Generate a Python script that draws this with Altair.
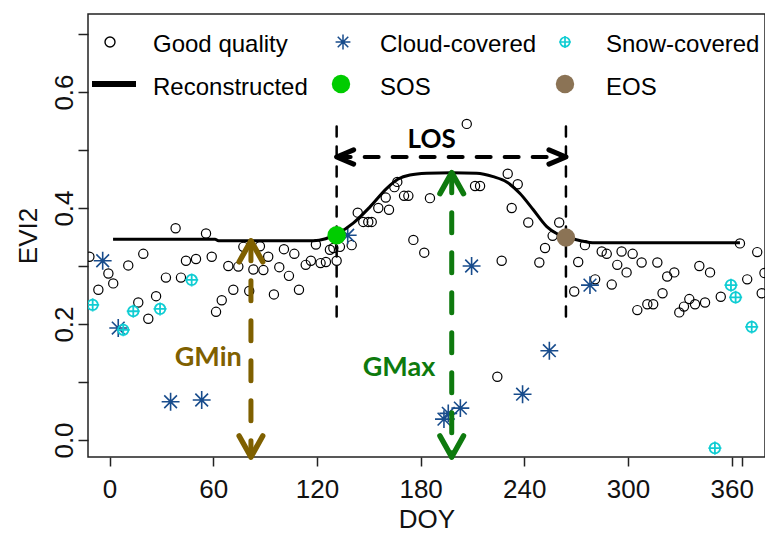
import altair as alt
import pandas as pd

# ---------------------------------------------------------------------------
# Observations: day of year and EVI2, split by pixel quality
# ---------------------------------------------------------------------------
good_doy = [-11.7, -6.5, -0.7, 2.1, 10.8, 16.6, 19.5, 22.4, 26.9, 32.6, 38.2, 41.3,
            44.2, 50.0, 55.8, 59.1, 61.6, 64.9, 68.7, 71.6, 74.5, 77.4, 80.8, 83.2,
            87.0, 89.0, 91.8, 95.1, 98.2, 100.9, 103.8, 106.9, 109.6, 113.5, 116.5,
            119.4, 122.1, 125.2, 127.5, 129.5, 131.4, 133.3, 140.1, 143.6, 146.8,
            149.7, 151.7, 155.5, 159.8, 161.7, 164.8, 166.5, 170.4, 172.9, 175.8,
            182.1, 185.4, 206.7, 211.5, 214.4, 224.4, 226.9, 230.4, 232.7, 236.2,
            242.3, 248.7, 252.0, 256.4, 260.2, 268.9, 271.2, 275.1, 281.0, 284.8,
            287.7, 290.6, 293.8, 296.3, 299.2, 302.7, 305.4, 307.9, 311.2, 314.6,
            317.0, 320.0, 322.7, 326.8, 329.7, 332.4, 335.5, 338.8, 341.3, 344.6,
            347.5, 353.7, 364.8, 369.0, 374.8, 377.4, 379.0]
good_evi2 = [0.316, 0.259, 0.287, 0.270, 0.301, 0.237, 0.321, 0.209, 0.248, 0.280, 0.365, 0.280,
             0.309, 0.312, 0.356, 0.316, 0.221, 0.241, 0.300, 0.259, 0.299, 0.333, 0.257, 0.294,
             0.334, 0.293, 0.316, 0.251, 0.298, 0.329, 0.283, 0.321, 0.259, 0.302, 0.309,
             0.337, 0.305, 0.307, 0.328, 0.331, 0.309, 0.333, 0.336, 0.392, 0.376,
             0.376, 0.376, 0.400, 0.418, 0.397, 0.436, 0.445, 0.421, 0.421, 0.345,
             0.323, 0.417, 0.545, 0.438, 0.438, 0.109, 0.309, 0.459, 0.400, 0.441,
             0.375, 0.306, 0.331, 0.352, 0.375, 0.256, 0.307, 0.336, 0.277, 0.325,
             0.321, 0.268, 0.302, 0.325, 0.289, 0.321, 0.224, 0.306, 0.234, 0.234,
             0.306, 0.253, 0.282, 0.289, 0.220, 0.230, 0.243, 0.234, 0.300, 0.237,
             0.289, 0.247, 0.339, 0.277, 0.324, 0.253, 0.288]

cloud_doy = [-4.0, 5.0, 35.3, 53.3, 137.8, 193.5, 196.0, 203.0, 209.5, 239.0, 254.5, 278.0]
cloud_evi2 = [0.309, 0.193, 0.066, 0.069, 0.353, 0.036, 0.046, 0.055, 0.300, 0.079, 0.154, 0.267]

snow_doy = [-9.8, 7.9, 13.7, 29.2, 47.5, 350.3, 359.6, 362.3, 371.6]
snow_evi2 = [0.233, 0.190, 0.222, 0.226, 0.276, -0.014, 0.267, 0.246, 0.195]

# Reconstructed (smoothed) EVI2 curve
recon_doy = [2, 61, 63, 118, 125, 131.4, 141, 150.7, 160.4, 167, 173.8, 183.5, 198,
             212.4, 222, 229.8, 237.5, 245.2, 253, 258.7, 264.1, 272, 281, 364.8]
recon_evi2 = [0.346, 0.346, 0.3435, 0.3435, 0.347, 0.355, 0.374, 0.402, 0.434, 0.450,
              0.457, 0.460, 0.461, 0.460, 0.454, 0.445, 0.425, 0.397, 0.368, 0.356,
              0.350, 0.344, 0.340, 0.340]

# Phenology metrics
SOS_DOY, SOS_EVI2 = 131.4, 0.353
EOS_DOY, EOS_EVI2 = 264.1, 0.349
GMIN_DOY, GMIN_EVI2 = 81.8, 0.3435
GMAX_DOY, GMAX_EVI2 = 198.0, 0.461
LOS_EVI2 = 0.488
PHENO_LINE_LOW, PHENO_LINE_HIGH = 0.213, 0.545

LEGEND_LABELS = ["Good quality", "Cloud-covered", "Snow-covered",
                 "Reconstructed", "SOS", "EOS"]

# Axis extents
X_MIN, X_MAX = -12.5, 379.3
Y_MIN, Y_MAX = -0.0293, 0.7345

# ---------------------------------------------------------------------------
# Styling
# ---------------------------------------------------------------------------
AXIS_FONT = "Liberation Sans"
NOTE_FONT = "Lato"
C_CLOUD = "#184C8C"
C_SNOW = "#10CDD3"
C_SOS = "#00CC00"
C_EOS = "#8B7355"
C_GMIN = "#7F6000"
C_GMAX = "#0E7A0E"

ASTERISK = "M-1,0L1,0M0,-1L0,1M-0.71,-0.71L0.71,0.71M-0.71,0.71L0.71,-0.71"
SNOW = "M-0.8,0A0.8,0.8 0 1,0 0.8,0A0.8,0.8 0 1,0 -0.8,0M-1,0L1,0M0,-1L0,1"
HEAD_UP = "M-0.56,1L0,0L0.56,1"
HEAD_DOWN = "M-0.56,-1L0,0L0.56,-1"
HEAD_LEFT = "M1,-0.42L0,0L1,0.42"
HEAD_RIGHT = "M-1,-0.42L0,0L-1,0.42"

x_scale = alt.Scale(domain=[X_MIN, X_MAX], nice=False, zero=False)
y_scale = alt.Scale(domain=[Y_MIN, Y_MAX], nice=False, zero=False)

x_axis = alt.Axis(
    values=[0, 60, 120, 180, 240, 300, 360, 366],
    labelExpr="datum.value == 366 ? '' : datum.label",
    grid=False, domain=False, tickSize=9, tickWidth=1.5, tickColor="#222",
    labelFont=AXIS_FONT, labelFontSize=26, labelColor="#111", labelPadding=10,
    labelOverlap=False, labelFlush=False,
    title="DOY", titleFont=AXIS_FONT, titleFontSize=26, titleFontWeight="normal",
    titleColor="#111", titleAlign="center", titleBaseline="middle",
    titleX=338.5, titleY=62,
)
y_axis = alt.Axis(
    values=[round(0.1 * i, 1) for i in range(8)],
    labelExpr="round(datum.value * 10) % 2 == 0 ? format(datum.value, '.1f') : ''",
    grid=False, domain=False, tickSize=10, tickWidth=1.5, tickColor="#222",
    labelFont=AXIS_FONT, labelFontSize=26, labelColor="#111", labelPadding=6,
    labelAngle=270, labelAlign="center", labelBaseline="alphabetic",
    labelOverlap=False, labelFlush=False,
    title="EVI2", titleFont=AXIS_FONT, titleFontSize=26, titleFontWeight="normal",
    titleColor="#111", titleAngle=270, titleAlign="center", titleBaseline="middle",
    titleX=-60, titleY=221.5,
)


def xq(field="doy"):
    return alt.X(f"{field}:Q", scale=x_scale, axis=x_axis)


def yq(field="evi2"):
    return alt.Y(f"{field}:Q", scale=y_scale, axis=y_axis)


good = pd.DataFrame({"doy": good_doy, "evi2": good_evi2})
cloud = pd.DataFrame({"doy": cloud_doy, "evi2": cloud_evi2})
snow = pd.DataFrame({"doy": snow_doy, "evi2": snow_evi2})
recon = pd.DataFrame({"doy": recon_doy, "evi2": recon_evi2})

good_layer = alt.Chart(good).mark_point(
    shape="circle", filled=False, color="black", size=85, strokeWidth=1.2,
    opacity=1, clip=True
).encode(x=xq(), y=yq())

cloud_layer = alt.Chart(cloud).mark_point(
    shape=ASTERISK, filled=False, color=C_CLOUD, size=320, strokeWidth=1.6,
    opacity=1, clip=True
).encode(x=xq(), y=yq())

snow_layer = alt.Chart(snow).mark_point(
    shape=SNOW, filled=False, color=C_SNOW, size=170, strokeWidth=1.8,
    opacity=1, clip=True
).encode(x=xq(), y=yq())

recon_layer = alt.Chart(recon).mark_line(
    color="black", strokeWidth=3, interpolate="monotone", clip=True
).encode(x=xq(), y=yq())

# Dashed verticals at SOS and EOS
pheno = pd.DataFrame({"doy": [SOS_DOY, EOS_DOY],
                      "evi2": [PHENO_LINE_LOW] * 2, "evi2_top": [PHENO_LINE_HIGH] * 2})
pheno_lines = alt.Chart(pheno).mark_rule(
    color="black", strokeWidth=2.5, strokeDash=[10, 10], strokeCap="round"
).encode(x=xq(), y=yq(), y2="evi2_top:Q")

# Length of season arrow
los = pd.DataFrame({"doy": [SOS_DOY], "doy_end": [EOS_DOY], "evi2": [LOS_EVI2]})
los_line = alt.Chart(los).mark_rule(
    color="black", strokeWidth=4, strokeDash=[14, 14], strokeCap="round"
).encode(x=xq(), x2="doy_end:Q", y=yq())
los_left = alt.Chart(pd.DataFrame({"doy": [SOS_DOY], "evi2": [LOS_EVI2]})).mark_point(
    shape=HEAD_LEFT, filled=False, color="black", size=1156, strokeWidth=5,
    strokeCap="round", strokeJoin="round", opacity=1
).encode(x=xq(), y=yq())
los_right = alt.Chart(pd.DataFrame({"doy": [EOS_DOY], "evi2": [LOS_EVI2]})).mark_point(
    shape=HEAD_RIGHT, filled=False, color="black", size=1156, strokeWidth=5,
    strokeCap="round", strokeJoin="round", opacity=1
).encode(x=xq(), y=yq())

# SOS / EOS markers
sos_dot = alt.Chart(pd.DataFrame({"doy": [SOS_DOY], "evi2": [SOS_EVI2]})).mark_point(
    shape="circle", filled=True, color=C_SOS, size=340, opacity=1
).encode(x=xq(), y=yq())
eos_dot = alt.Chart(pd.DataFrame({"doy": [EOS_DOY], "evi2": [EOS_EVI2]})).mark_point(
    shape="circle", filled=True, color=C_EOS, size=340, opacity=1
).encode(x=xq(), y=yq())


def double_arrow(doy, top, color):
    shaft_df = pd.DataFrame({"doy": [doy], "evi2": [top], "evi2_low": [Y_MIN]})
    shaft = alt.Chart(shaft_df).mark_rule(
        color=color, strokeWidth=5, strokeDash=[20, 20], strokeCap="round"
    ).encode(x=xq(), y=yq(), y2="evi2_low:Q")
    up = alt.Chart(pd.DataFrame({"doy": [doy], "evi2": [top]})).mark_point(
        shape=HEAD_UP, filled=False, color=color, size=1764, strokeWidth=5.5,
        strokeCap="round", strokeJoin="round", opacity=1
    ).encode(x=xq(), y=yq())
    down = alt.Chart(pd.DataFrame({"doy": [doy], "evi2": [Y_MIN]})).mark_point(
        shape=HEAD_DOWN, filled=False, color=color, size=1764, strokeWidth=5.5,
        strokeCap="round", strokeJoin="round", opacity=1
    ).encode(x=xq(), y=yq())
    return [shaft, up, down]


def note(text, doy, evi2, color, size):
    return alt.Chart(pd.DataFrame({"doy": [doy], "evi2": [evi2]})).mark_text(
        text=text, font=NOTE_FONT, fontSize=size, fontWeight="bold", color=color,
        align="center", baseline="middle"
    ).encode(x=xq(), y=yq())


notes = [
    note("LOS", 186.4, 0.518, "black", 26),
    note("GMin", 57.1, 0.141, C_GMIN, 27),
    note("GMax", 167.5, 0.125, C_GMAX, 27),
]

# ---------------------------------------------------------------------------
# Legend block (two rows, three columns) in the upper part of the panel
# ---------------------------------------------------------------------------
one = pd.DataFrame({"k": [0]})
ROW_Y = [28, 70]
COL_SYMBOL_X = [22, 253, 477]
COL_TEXT_X = [65, 292, 518]
TEXT_BASE_Y = [38, 81]

legend = [
    alt.Chart(one).mark_point(shape="circle", filled=False, color="black", size=100,
                              strokeWidth=1.4, opacity=1)
    .encode(x=alt.value(COL_SYMBOL_X[0]), y=alt.value(ROW_Y[0])),
    alt.Chart(one).mark_point(shape=ASTERISK, filled=False, color=C_CLOUD, size=220,
                              strokeWidth=1.5, opacity=1)
    .encode(x=alt.value(COL_SYMBOL_X[1] + 2), y=alt.value(ROW_Y[0])),
    alt.Chart(one).mark_point(shape=SNOW, filled=False, color=C_SNOW, size=140,
                              strokeWidth=1.7, opacity=1)
    .encode(x=alt.value(COL_SYMBOL_X[2]), y=alt.value(ROW_Y[0])),
    alt.Chart(one).mark_rule(color="black", strokeWidth=6, strokeCap="butt")
    .encode(x=alt.value(4), x2=alt.value(48), y=alt.value(ROW_Y[1])),
    alt.Chart(one).mark_point(shape="circle", filled=True, color=C_SOS, size=340, opacity=1)
    .encode(x=alt.value(COL_SYMBOL_X[1]), y=alt.value(ROW_Y[1])),
    alt.Chart(one).mark_point(shape="circle", filled=True, color=C_EOS, size=340, opacity=1)
    .encode(x=alt.value(COL_SYMBOL_X[2]), y=alt.value(ROW_Y[1])),
]
for i, label in enumerate(LEGEND_LABELS):
    row, col = divmod(i, 3)
    legend.append(
        alt.Chart(one).mark_text(
            text=label, font=AXIS_FONT, fontSize=24, color="black",
            align="left", baseline="alphabetic"
        ).encode(x=alt.value(COL_TEXT_X[col]), y=alt.value(TEXT_BASE_Y[row]))
    )

layers = ([good_layer, cloud_layer, snow_layer, recon_layer, pheno_lines,
           los_line, los_left, los_right, sos_dot, eos_dot]
          + double_arrow(GMIN_DOY, GMIN_EVI2, C_GMIN)
          + double_arrow(GMAX_DOY, GMAX_EVI2, C_GMAX)
          + notes + legend)

chart = alt.layer(*layers).properties(
    width=677, height=443,
    padding={"left": 88, "top": 14, "right": 0, "bottom": 78},
    autosize=alt.AutoSizeParams(type="none"),
    background="white",
).configure_view(stroke="#222", strokeWidth=1.5)

chart.save("out.html", embed_options={"renderer": "svg", "actions": False})
